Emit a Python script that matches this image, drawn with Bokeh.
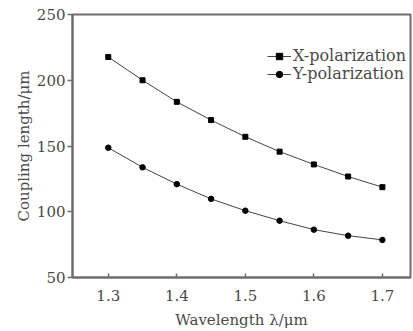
from bokeh.plotting import figure
from bokeh.embed import file_html
from bokeh.resources import INLINE
from bokeh.models import Range1d, FixedTicker, Legend, LegendItem

wavelength = [1.30, 1.35, 1.40, 1.45, 1.50, 1.55, 1.60, 1.65, 1.70]
x_pol = [217.7, 200.0, 183.6, 169.7, 157.0, 145.7, 136.0, 126.8, 118.7]
y_pol = [148.7, 133.8, 121.0, 109.8, 100.8, 93.2, 86.4, 81.8, 78.6]
x_ticks = [1.3, 1.4, 1.5, 1.6, 1.7]
y_ticks = [50, 100, 150, 200, 250]
series_labels = ["X-polarization", "Y-polarization"]

FONT = "DejaVu Serif"
AX = "#6e6e6e"
TXT = "#4a4a4a"

p = figure(width=413, height=331, output_backend="svg", toolbar_location=None,
           x_range=Range1d(1.2478, 1.741), y_range=Range1d(50, 250),
           min_border_left=72, min_border_right=3, min_border_top=14, min_border_bottom=53)
p.grid.visible = False
p.background_fill_color = "white"
p.border_fill_color = "white"
p.outline_line_color = AX
p.outline_line_width = 2

l1 = p.line(wavelength, x_pol, line_color="#444444", line_width=1)
m1 = p.scatter(wavelength, x_pol, marker="square", size=5, color="black")
l2 = p.line(wavelength, y_pol, line_color="#444444", line_width=1)
m2 = p.scatter(wavelength, y_pol, marker="circle", size=5.5, color="black")

for ax in (p.xaxis[0], p.yaxis[0]):
    ax.axis_line_color = AX
    ax.axis_line_width = 2
    ax.major_tick_line_color = AX
    ax.major_tick_line_width = 1.5
    ax.minor_tick_line_color = None
    ax.major_label_text_font = FONT
    ax.major_label_text_font_size = "15px"
    ax.major_label_text_color = TXT
    ax.axis_label_text_font = FONT
    ax.axis_label_text_font_size = "15px"
    ax.axis_label_text_font_style = "normal"
    ax.axis_label_text_color = TXT

p.xaxis.ticker = FixedTicker(ticks=x_ticks)
p.yaxis.ticker = FixedTicker(ticks=y_ticks)
p.xaxis.major_tick_in = 4
p.xaxis.major_tick_out = 0
p.yaxis.major_tick_in = 0
p.yaxis.major_tick_out = 5
p.xaxis.major_label_standoff = 12
p.yaxis.major_label_standoff = 2
p.xaxis.axis_label = "Wavelength λ/μm"
p.yaxis.axis_label = "Coupling length/μm"
p.xaxis.axis_label_standoff = 7
p.yaxis.axis_label_standoff = 1


def make_legend(label, renderers, loc):
    lg = Legend(items=[LegendItem(label=label, renderers=renderers)], location=loc)
    lg.background_fill_alpha = 0
    lg.border_line_color = None
    lg.label_text_font = FONT
    lg.label_text_font_size = "16px"
    lg.label_text_color = TXT
    lg.glyph_width = 24
    lg.glyph_height = 16
    lg.spacing = 0
    lg.padding = 0
    lg.margin = 0
    lg.label_standoff = 2
    lg.label_height = 16
    return lg


p.add_layout(make_legend(series_labels[0], [l1, m1], (195, 212)))
p.add_layout(make_legend(series_labels[1], [l2, m2], (195, 194)))

open("out.html", "w").write(file_html(p, INLINE))
